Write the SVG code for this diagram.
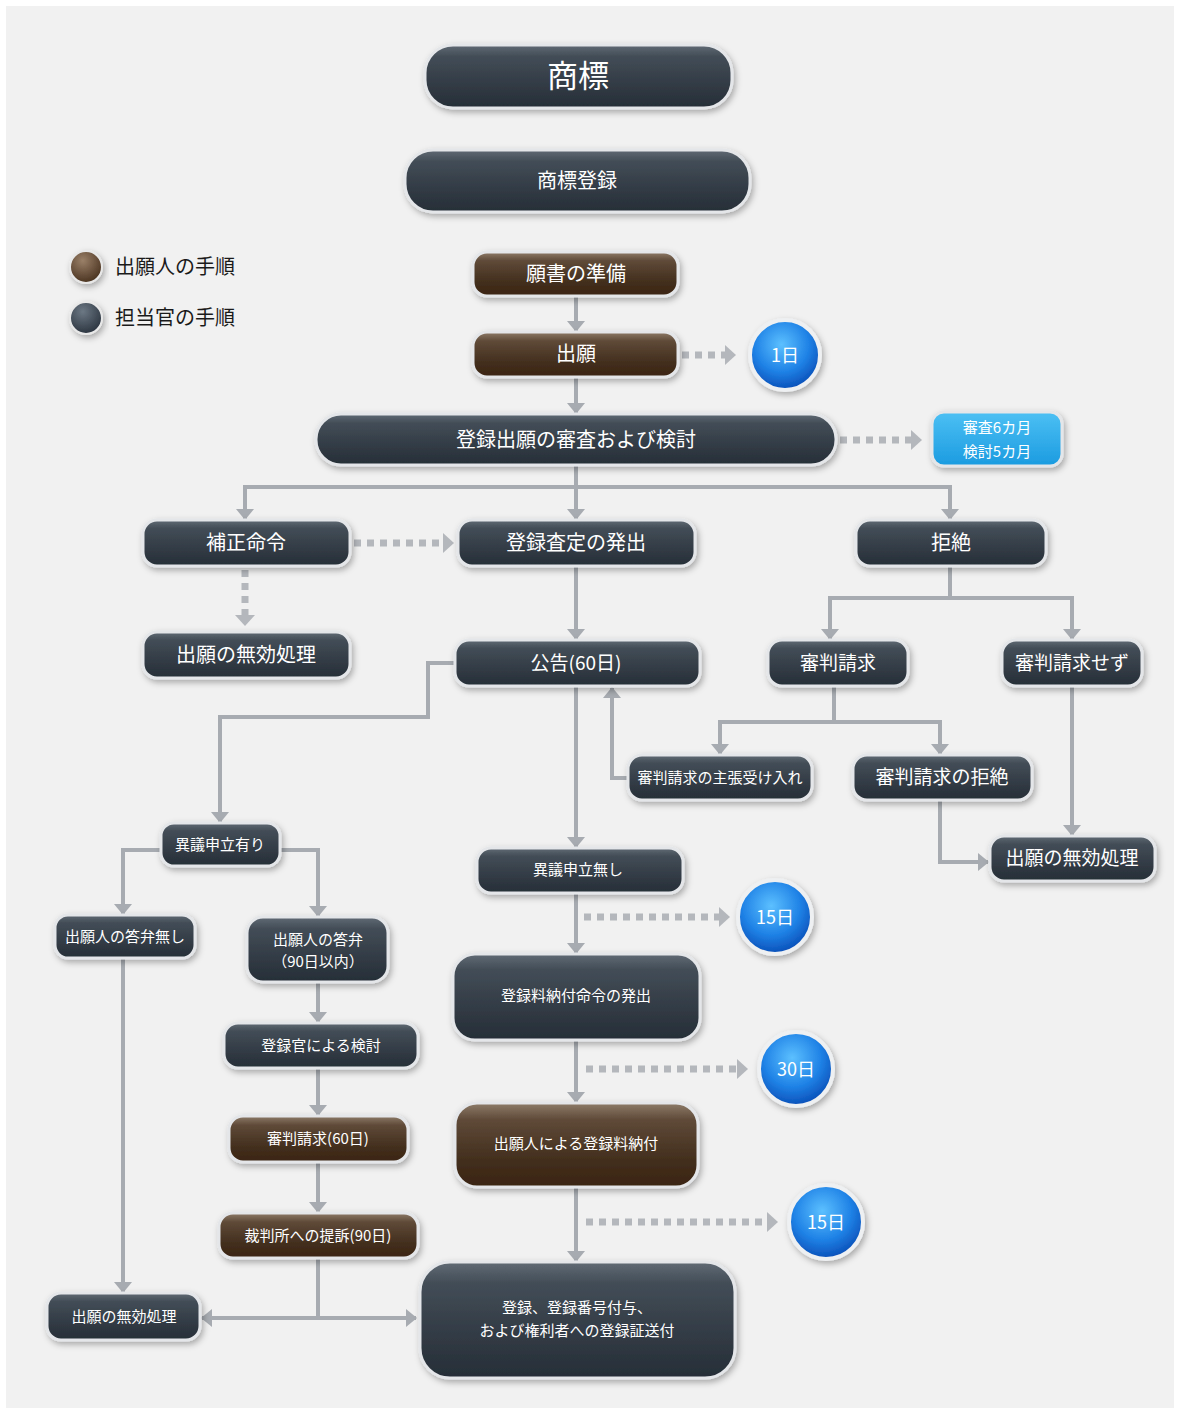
<svg xmlns="http://www.w3.org/2000/svg" width="1180" height="1414" viewBox="0 0 1180 1414">
<defs>
<linearGradient id="gNavy" x1="0" y1="0" x2="0" y2="1">
<stop offset="0" stop-color="#616b75"/><stop offset="0.18" stop-color="#434d57"/><stop offset="0.6" stop-color="#333c46"/><stop offset="1" stop-color="#262e37"/>
</linearGradient>
<linearGradient id="gBrown" x1="0" y1="0" x2="0" y2="1">
<stop offset="0" stop-color="#8e7c6a"/><stop offset="0.2" stop-color="#5f4a38"/><stop offset="0.65" stop-color="#44301f"/><stop offset="1" stop-color="#3a2410"/>
</linearGradient>
<linearGradient id="gBlueRect" x1="0" y1="0" x2="0" y2="1">
<stop offset="0" stop-color="#4cc0f4"/><stop offset="1" stop-color="#1b9be0"/>
</linearGradient>
<radialGradient id="gBlue" cx="0.45" cy="0.35" r="0.65">
<stop offset="0" stop-color="#5cc0ff"/><stop offset="0.6" stop-color="#1f82e6"/><stop offset="1" stop-color="#0a4fb8"/>
</radialGradient>
<radialGradient id="gLegBrown" cx="0.4" cy="0.3" r="0.7">
<stop offset="0" stop-color="#9a8068"/><stop offset="1" stop-color="#4a3320"/>
</radialGradient>
<radialGradient id="gLegNavy" cx="0.4" cy="0.3" r="0.7">
<stop offset="0" stop-color="#6c7884"/><stop offset="1" stop-color="#2c3540"/>
</radialGradient>
<filter id="sh" x="-20%" y="-30%" width="140%" height="170%">
<feDropShadow dx="2" dy="3" stdDeviation="3" flood-color="#000" flood-opacity="0.3"/>
</filter>
<marker id="ah" markerUnits="userSpaceOnUse" markerWidth="11" markerHeight="18" viewBox="0 0 11 18" refX="10" refY="9" orient="auto">
<path d="M0,0 L11,9 L0,18 z" fill="#a7abb1"/>
</marker>
<marker id="ahd" markerUnits="userSpaceOnUse" markerWidth="11" markerHeight="20" viewBox="0 0 11 20" refX="3" refY="10" orient="auto">
<path d="M0,0 L11,10 L0,20 z" fill="#b4b7bc"/>
</marker>
<style>
.n{fill:url(#gNavy);stroke:#e4e6e9;stroke-width:3;filter:url(#sh)}
.b{fill:url(#gBrown);stroke:#e4e6e9;stroke-width:3;filter:url(#sh)}
.c{fill:url(#gBlue);stroke:#eef0f2;stroke-width:4;filter:url(#sh)}
.t{fill:#ffffff;font-family:"Noto Sans CJK JP","Noto Sans",sans-serif;text-anchor:middle}
.lg{fill:#1a1a1a;font-family:"Noto Sans CJK JP","Noto Sans",sans-serif;font-size:20px}
.ln{fill:none;stroke:#a7abb1;stroke-width:4}
.ar{fill:none;stroke:#a7abb1;stroke-width:4;marker-end:url(#ah)}
.ds{fill:none;stroke:#b4b7bc;stroke-width:7;stroke-dasharray:7 6;marker-end:url(#ahd)}
</style>
</defs>
<rect x="0" y="0" width="1180" height="1414" fill="#ffffff"/>
<rect x="6" y="6" width="1168" height="1402" fill="#f1f1f1"/>

<g id="connectors">
<path class="ar" d="M576,296 V331"/>
<path class="ar" d="M576,377 V413"/>
<path class="ds" d="M682,355 H728"/>
<path class="ds" d="M840,440 H914"/>
<path class="ln" d="M576,465 V487 M245,487 H950"/>
<path class="ar" d="M245,485 V519"/>
<path class="ar" d="M576,487 V519"/>
<path class="ar" d="M950,485 V519"/>
<path class="ds" d="M354,543 H446"/>
<path class="ds" d="M245,570 V618"/>
<path class="ar" d="M576,566 V639"/>
<path class="ln" d="M950,566 V598 M828,598 H1074"/>
<path class="ar" d="M830,596 V639"/>
<path class="ar" d="M1072,596 V639"/>
<path class="ln" d="M834,686 V722 M718,722 H942"/>
<path class="ar" d="M720,720 V754"/>
<path class="ar" d="M940,720 V754"/>
<path class="ar" d="M628,778 H612 V688"/>
<path class="ar" d="M940,800 V862 H988"/>
<path class="ar" d="M1072,686 V835"/>
<path class="ar" d="M455,663 H428 V717 H220 V822"/>
<path class="ar" d="M576,686 V847"/>
<path class="ar" d="M161,850 H123 V914"/>
<path class="ar" d="M280,850 H318 V916"/>
<path class="ar" d="M576,893 V953"/>
<path class="ds" d="M584,917 H722"/>
<path class="ar" d="M576,1040 V1102"/>
<path class="ds" d="M586,1069 H740"/>
<path class="ar" d="M576,1187 V1261"/>
<path class="ds" d="M586,1222 H770"/>
<path class="ar" d="M123,958 V1292"/>
<path class="ar" d="M318,982 V1022"/>
<path class="ar" d="M318,1068 V1115"/>
<path class="ar" d="M318,1162 V1212"/>
<path class="ln" d="M318,1258 V1318"/>
<path class="ar" d="M318,1318 H202"/>
<path class="ar" d="M318,1318 H416"/>
</g>

<g id="legend">
<circle cx="86" cy="267" r="16" fill="url(#gLegBrown)" stroke="#e8e8e8" stroke-width="2" filter="url(#sh)"/>
<text class="lg" x="115" y="274">出願人の手順</text>
<circle cx="86" cy="318" r="16" fill="url(#gLegNavy)" stroke="#e8e8e8" stroke-width="2" filter="url(#sh)"/>
<text class="lg" x="115" y="325">担当官の手順</text>
</g>

<g id="n-shohyo"><rect class="n" x="425" y="45" width="307" height="63" rx="28"/><text class="t" x="578" y="87" font-size="31">商標</text></g>
<g id="n-shohyo-toroku"><rect class="n" x="405" y="150" width="345" height="62" rx="28"/><text class="t" x="577" y="188" font-size="20">商標登録</text></g>
<g id="n-gansho"><rect class="b" x="473" y="252" width="205" height="44" rx="14"/><text class="t" x="576" y="281" font-size="20">願書の準備</text></g>
<g id="n-shutsugan"><rect class="b" x="473" y="332" width="205" height="45" rx="14"/><text class="t" x="576" y="361" font-size="20">出願</text></g>
<g id="c-1day"><circle class="c" cx="785" cy="355" r="35"/><text class="t" x="785" y="362" font-size="18">1日</text></g>
<g id="n-shinsa"><rect class="n" x="316" y="414" width="520" height="51" rx="25"/><text class="t" x="576" y="447" font-size="20">登録出願の審査および検討</text></g>
<g id="n-period"><rect x="932" y="412" width="130" height="54" rx="12" fill="url(#gBlueRect)" stroke="#e4e6e9" stroke-width="3" filter="url(#sh)"/><text class="t" x="997" y="433" font-size="15">審査6カ月</text><text class="t" x="997" y="457" font-size="15">検討5カ月</text></g>
<g id="n-hosei"><rect class="n" x="143" y="520" width="207" height="46" rx="14"/><text class="t" x="246" y="550" font-size="20">補正命令</text></g>
<g id="n-satei"><rect class="n" x="458" y="520" width="237" height="46" rx="14"/><text class="t" x="576" y="550" font-size="20">登録査定の発出</text></g>
<g id="n-kyozetsu"><rect class="n" x="856" y="520" width="190" height="46" rx="14"/><text class="t" x="951" y="550" font-size="20">拒絶</text></g>
<g id="n-mukou1"><rect class="n" x="143" y="632" width="207" height="46" rx="14"/><text class="t" x="246" y="662" font-size="20">出願の無効処理</text></g>
<g id="n-kokoku"><rect class="n" x="455" y="640" width="245" height="46" rx="14"/><text class="t" x="576" y="670" font-size="19">公告(60日)</text></g>
<g id="n-shinpan"><rect class="n" x="768" y="640" width="140" height="46" rx="14"/><text class="t" x="838" y="670" font-size="19">審判請求</text></g>
<g id="n-shinpan-sezu"><rect class="n" x="1002" y="640" width="140" height="46" rx="14"/><text class="t" x="1072" y="670" font-size="19">審判請求せず</text></g>
<g id="n-ukeire"><rect class="n" x="628" y="755" width="184" height="45" rx="14"/><text class="t" x="720" y="783" font-size="15">審判請求の主張受け入れ</text></g>
<g id="n-shinpan-kyozetsu"><rect class="n" x="853" y="755" width="179" height="45" rx="14"/><text class="t" x="942" y="784" font-size="19">審判請求の拒絶</text></g>
<g id="n-mukou2"><rect class="n" x="990" y="836" width="165" height="45" rx="14"/><text class="t" x="1072" y="865" font-size="19">出願の無効処理</text></g>
<g id="n-igi-ari"><rect class="n" x="161" y="823" width="119" height="43" rx="13"/><text class="t" x="220" y="850" font-size="15">異議申立有り</text></g>
<g id="n-igi-nashi"><rect class="n" x="477" y="848" width="206" height="45" rx="14"/><text class="t" x="578" y="875" font-size="15">異議申立無し</text></g>
<g id="n-toben-nashi"><rect class="n" x="55" y="915" width="140" height="43" rx="13"/><text class="t" x="125" y="942" font-size="15">出願人の答弁無し</text></g>
<g id="n-toben"><rect class="n" x="247" y="917" width="141" height="65" rx="16"/><text class="t" x="318" y="945" font-size="15">出願人の答弁</text><text class="t" x="318" y="967" font-size="15">（90日以内）</text></g>
<g id="c-15day-a"><circle class="c" cx="775" cy="917" r="37"/><text class="t" x="775" y="924" font-size="18">15日</text></g>
<g id="n-nofu-meirei"><rect class="n" x="453" y="954" width="247" height="86" rx="22"/><text class="t" x="576" y="1001" font-size="15">登録料納付命令の発出</text></g>
<g id="c-30day"><circle class="c" cx="796" cy="1069" r="37"/><text class="t" x="796" y="1076" font-size="18">30日</text></g>
<g id="n-torokukan"><rect class="n" x="224" y="1023" width="194" height="45" rx="14"/><text class="t" x="321" y="1051" font-size="15">登録官による検討</text></g>
<g id="n-shinpan60"><rect class="b" x="229" y="1116" width="179" height="46" rx="14"/><text class="t" x="318" y="1144" font-size="15">審判請求(60日)</text></g>
<g id="n-nofu"><rect class="b" x="455" y="1103" width="243" height="84" rx="22"/><text class="t" x="576" y="1149" font-size="15">出願人による登録料納付</text></g>
<g id="c-15day-b"><circle class="c" cx="826" cy="1222" r="37"/><text class="t" x="826" y="1229" font-size="18">15日</text></g>
<g id="n-saibansho"><rect class="b" x="219" y="1213" width="199" height="45" rx="14"/><text class="t" x="318" y="1241" font-size="15">裁判所への提訴(90日)</text></g>
<g id="n-mukou3"><rect class="n" x="47" y="1293" width="153" height="47" rx="14"/><text class="t" x="124" y="1322" font-size="15">出願の無効処理</text></g>
<g id="n-toroku"><rect class="n" x="420" y="1262" width="315" height="116" rx="30"/><text class="t" x="577" y="1313" font-size="15">登録、登録番号付与、</text><text class="t" x="577" y="1336" font-size="15">および権利者への登録証送付</text></g>
</svg>
